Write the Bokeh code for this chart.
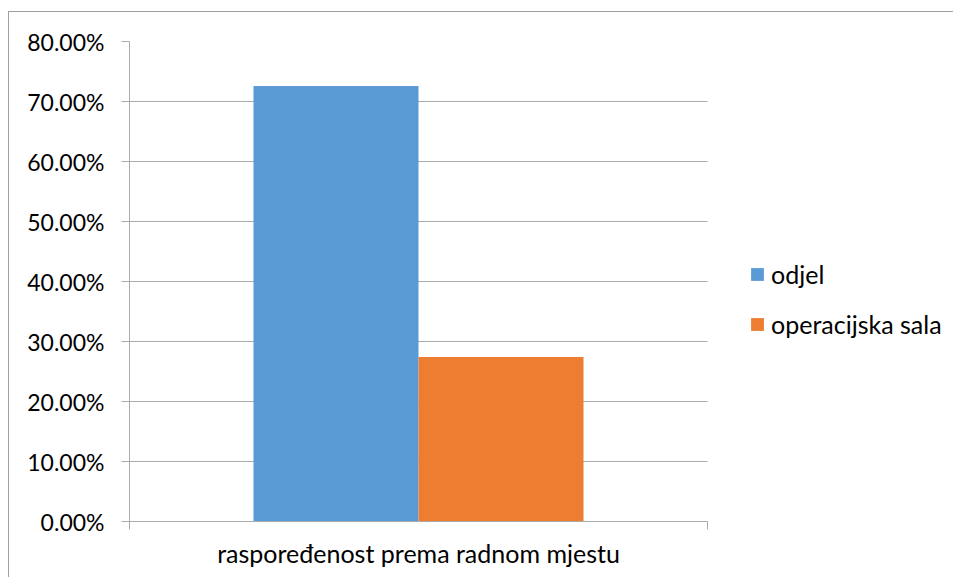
from bokeh.plotting import figure
from bokeh.models import Range1d, FixedTicker, NumeralTickFormatter, Legend, LegendItem
from bokeh.embed import file_html
from bokeh.resources import INLINE

categories = ["raspoređenost prema radnom mjestu"]
series = ["odjel", "operacijska sala"]
values = [0.726, 0.274]
colors = ["#5B9BD5", "#ED7D31"]
y_ticks = [0.0, 0.1, 0.2, 0.3, 0.4, 0.5, 0.6, 0.7, 0.8]

FONT = "Lato"
GRAY = "#ABABAB"

# frame spans to the right edge; the category area (0..1) covers 578 px of 825 px
x_end = 825 / 578

p = figure(width=945, height=566,
           x_range=Range1d(0, x_end), y_range=Range1d(0, 0.8),
           output_backend="svg", toolbar_location=None,
           min_border_left=120, min_border_right=0,
           min_border_top=29, min_border_bottom=57)
p.margin = (11, 0, 0, 8)
p.styles = {"border-left": "1px solid #A0A0A0", "border-top": "1px solid #A0A0A0"}
p.outline_line_color = None

bar_w = 0.2855
n = len(series)
renderers = []
for i, (s, v, c) in enumerate(zip(series, values, colors)):
    xc = 0.5 + (i - (n - 1) / 2) * bar_w
    r = p.vbar(x=[xc], top=[v], bottom=0, width=bar_w, fill_color=c, line_color=None)
    renderers.append(r)

# y axis
p.yaxis.ticker = FixedTicker(ticks=y_ticks)
p.yaxis.formatter = NumeralTickFormatter(format="0.00%")
p.yaxis.major_label_text_font = FONT
p.yaxis.major_label_text_font_size = "23px"
p.yaxis.major_label_text_color = "#000000"
p.yaxis.major_tick_out = 8
p.yaxis.major_tick_in = 0
p.yaxis.minor_tick_line_color = None
p.yaxis.major_tick_line_color = GRAY
p.yaxis.axis_line_color = GRAY
p.yaxis.major_label_standoff = 17

# x axis: one category centred at 0.5, boundary ticks at 0 and 1
p.xaxis.ticker = FixedTicker(ticks=[0.5], minor_ticks=[0, 1])
p.xaxis.bounds = (0, 1)
p.xaxis.major_label_overrides = {0.5: categories[0]}
p.xaxis.major_label_text_font = FONT
p.xaxis.major_label_text_font_size = "25px"
p.xaxis.major_label_text_color = "#000000"
p.xaxis.major_label_standoff = 8
p.xaxis.major_tick_out = 0
p.xaxis.major_tick_in = 0
p.xaxis.major_tick_line_color = None
p.xaxis.minor_tick_out = 8
p.xaxis.minor_tick_in = 0
p.xaxis.minor_tick_line_color = GRAY
p.xaxis.axis_line_color = GRAY

p.xgrid.grid_line_color = None
p.ygrid.grid_line_color = GRAY
p.ygrid.ticker = FixedTicker(ticks=y_ticks)
p.ygrid.cross_bounds = (0, 1)

legend = Legend(items=[LegendItem(label=s, renderers=[r]) for s, r in zip(series, renderers)],
                location=(620, 182))
legend.glyph_width = 16
legend.glyph_height = 16
legend.label_text_font = FONT
legend.label_text_font_size = "25px"
legend.label_text_color = "#000000"
legend.label_standoff = 6
legend.spacing = 20
legend.padding = 0
legend.margin = 0
legend.border_line_color = None
legend.background_fill_alpha = 0
p.add_layout(legend, "center")

open("out.html", "w").write(file_html(p, INLINE))
